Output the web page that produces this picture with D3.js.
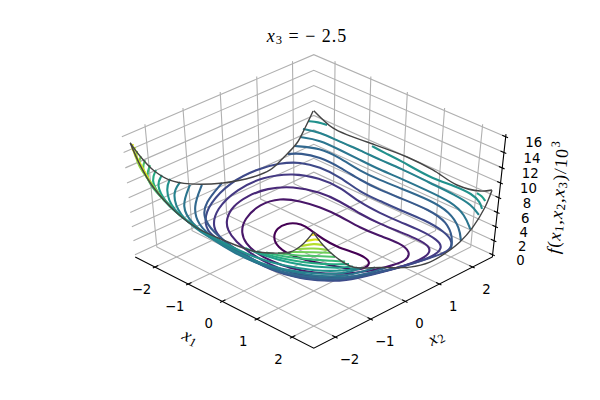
<!DOCTYPE html><html><head><meta charset="utf-8"><script src="https://cdn.jsdelivr.net/npm/d3@7"></script></head><body style="margin:0;background:#fff"><svg id="c" width="600" height="400" style="display:block"></svg><script>
// Tick values
const ticksX1=[-2,-1,0,1,2], ticksX2=[-2,-1,0,1,2], ticksZ=[0,2,4,6,8,10,12,14,16];
// Contour pieces: [level (f/10^3), closed?, [x1,x2 pairs]]
const contourLines=[
[.8,1,[[-.96,-.23],[-1.19,.10],[-1.19,.40],[-1.05,.55],[-.84,.58],[-.53,.51],[-.17,.44],[.27,.40],[.65,.48],[.97,.51],[1.24,.41],[1.31,.13],[1.18,-.06],[.91,-.15],[.37,-.39],[-.07,-.53],[-.60,-.47]]],
[1.6,1,[[-1.38,-.74],[-1.78,-.27],[-2.02,.42],[-1.91,.91],[-1.52,1.11],[-1.03,1.22],[-.46,1.23],[.20,1.15],[.73,1.19],[1.23,1.27],[1.65,1.15],[1.84,.80],[1.77,.50],[1.64,.02],[1.31,-.51],[.87,-.86],[.44,-1.06],[-.11,-1.14],[-.60,-1.10],[-.97,-.99]]],
[2.4,1,[[-1.50,-1.01],[-1.86,-.70],[-2.17,-.21],[-2.28,.31],[-2.24,.85],[-1.92,1.30],[-1.33,1.51],[-.75,1.52],[-.06,1.41],[.54,1.39],[1.06,1.43],[1.46,1.46],[1.91,1.43],[2.13,1.18],[2.16,.86],[2.12,.47],[1.87,-.28],[1.57,-.83],[1.15,-1.14],[.72,-1.34],[.18,-1.42],[-.47,-1.36],[-1.00,-1.24]]],
[3.2,1,[[-1.60,-1.33],[-2.14,-.71],[-2.47,.21],[-2.48,.97],[-2.16,1.54],[-1.60,1.78],[-1.02,1.79],[-.22,1.58],[.37,1.55],[.93,1.56],[1.46,1.60],[2.00,1.55],[2.30,1.38],[2.42,.96],[2.27,.30],[2.05,-.42],[1.77,-1.04],[1.38,-1.37],[.82,-1.62],[.23,-1.69],[-.47,-1.63],[-1.09,-1.54]]],
[4,1,[[-1.78,-1.37],[-2.21,-.83],[-2.61,.15],[-2.64,.95],[-2.49,1.49],[-2.23,1.82],[-1.77,1.95],[-1.15,1.93],[-.39,1.74],[.18,1.75],[.74,1.75],[1.39,1.80],[2.03,1.72],[2.47,1.50],[2.64,1.15],[2.56,.77],[2.43,.12],[2.22,-.57],[2.01,-1.15],[1.73,-1.42],[1.33,-1.71],[.66,-1.88],[-.18,-1.83],[-.75,-1.77],[-1.32,-1.70]]],
[4.8,0,[[-2.48,1.71],[-2.33,1.93],[-1.91,2.09],[-1.29,2.06],[-.59,1.94],[.01,1.91],[.54,1.95],[1.33,2.00],[1.93,1.87],[2.47,1.46],[2.75,1.10]]],
[4.8,0,[[-2.51,-.17],[-2.12,-1.02],[-1.71,-1.46],[-1.10,-1.76],[-.38,-1.92],[.35,-1.99],[1.17,-1.97],[1.71,-1.71],[2.14,-1.28],[2.36,-.72],[2.50,-.25]]],
[5.6,0,[[-2.45,1.89],[-2.01,2.20],[-1.40,2.17],[-.69,2.04],[-.12,2.04],[.41,2.08],[1.20,2.13],[1.84,2.04],[2.44,1.68],[2.82,1.30]]],
[5.6,0,[[-2.55,-.69],[-1.98,-1.47],[-1.35,-1.93],[-.65,-2.11],[.14,-2.19],[.99,-2.19],[1.83,-1.83],[2.26,-1.40],[2.45,-.90],[2.52,-.55]]],
[6.4,0,[[-2.48,2.07],[-2.09,2.27],[-1.47,2.24],[-.86,2.21],[-.26,2.18],[.28,2.21],[1.00,2.20],[1.74,2.19],[2.30,1.97],[2.77,1.61]]],
[6.4,0,[[-2.53,-1.03],[-1.96,-1.81],[-1.28,-2.14],[-.60,-2.28],[.18,-2.38],[1.00,-2.34],[1.94,-1.93],[2.36,-1.51],[2.48,-1.08],[2.52,-.84]]],
[7.2,0,[[-2.51,2.19],[-2.16,2.34],[-1.54,2.31],[-.99,2.34],[-.39,2.31],[.15,2.34],[1.03,2.29],[1.74,2.27],[2.27,2.19],[2.65,1.98]]],
[7.2,0,[[-2.57,-1.25],[-2.34,-1.69],[-1.55,-2.23],[-.74,-2.42],[.02,-2.46],[.89,-2.49],[1.51,-2.31],[2.03,-2.02],[2.45,-1.60],[2.51,-1.20]]],
[8,0,[[-2.50,2.33],[-2.32,2.45],[-2.09,2.48]]],
[8,0,[[-.76,2.45],[-.35,2.41],[.08,2.40],[1.05,2.26],[1.64,2.36],[2.12,2.35],[2.46,2.21],[2.68,2.02]]],
[8,0,[[-2.62,-1.47],[-2.38,-1.81],[-1.66,-2.33],[-.69,-2.53],[.13,-2.56],[.95,-2.54],[1.58,-2.36],[2.11,-2.10],[2.53,-1.68],[2.59,-1.43]]],
[8.8,0,[[2.32,2.25],[2.47,2.23],[2.66,2.12]]],
[8.8,0,[[-2.66,-1.64],[-2.43,-2.01],[-1.77,-2.37],[-1.14,-2.56],[-.59,-2.65]]],
[8.8,0,[[.70,-2.56],[1.19,-2.51],[1.73,-2.37],[2.16,-2.15],[2.54,-1.83],[2.67,-1.62]]],
[9.6,0,[[-2.71,-1.74],[-2.46,-2.10],[-1.93,-2.40],[-1.36,-2.61],[-.89,-2.72]]],
[9.6,0,[[1.13,-2.66],[1.53,-2.56],[1.90,-2.41],[2.23,-2.22],[2.53,-1.97],[2.71,-1.77]]],
[10.4,0,[[-2.75,-1.85],[-2.49,-2.19],[-2.08,-2.44],[-1.51,-2.64],[-1.14,-2.74]]],
[10.4,0,[[1.45,-2.72],[1.83,-2.59],[2.29,-2.29],[2.57,-2.06],[2.75,-1.92]]],
[11.2,0,[[-2.78,-1.94],[-2.57,-2.21],[-2.23,-2.41],[-1.70,-2.66],[-1.23,-2.83]]],
[11.2,0,[[1.79,-2.74],[2.09,-2.58],[2.35,-2.34],[2.65,-2.09]]],
[12,0,[[-2.76,-2.05],[-2.58,-2.29],[-2.23,-2.48],[-1.82,-2.66],[-1.29,-2.89]]],
[12,0,[[2.09,-2.72],[2.41,-2.40],[2.66,-2.20]]],
[12.8,0,[[-2.78,-2.12],[-2.57,-2.34],[-2.27,-2.53],[-1.87,-2.71],[-1.30,-2.97]]],
[12.8,0,[[2.26,-2.72],[2.46,-2.46],[2.69,-2.34]]],
[13.6,0,[[-2.73,-2.21],[-2.55,-2.39],[-2.36,-2.51],[-1.97,-2.71],[-1.31,-3.05]]],
[13.6,0,[[2.41,-2.74],[2.51,-2.50],[2.67,-2.43]]],
[14.4,0,[[-2.64,-2.32],[-2.53,-2.45],[-2.37,-2.53],[-2.07,-2.70],[-1.38,-3.07]]],
[14.4,0,[[2.51,-2.71],[2.56,-2.55],[2.66,-2.50]]],
[15.2,0,[[2.58,-2.65],[2.60,-2.60],[2.64,-2.58]]]];
// Surface boundary heights, [position along the side, f/10^3]
const edgeAtX1Min=[[-2.50,15.23],[-2.29,13.09],[-1.99,10.61],[-1.58,8.35],[-1.05,6.65],[-.15,4.78],[.70,3.73],[1.20,3.63],[1.59,4.48],[2.00,5.68],[2.24,7.25],[2.48,9.07]];
const edgeAtX2Max=[[-2.50,9.07],[-1.94,7.88],[-1.44,7.83],[-.95,8.04],[.18,8.42],[.90,8.23],[1.57,7.66],[2.19,8.22],[2.49,9.04]];
const edgeAtX1Max=[[2.49,9.04],[2.33,7.14],[2.01,5.10],[1.65,3.85],[1.37,3.41],[.78,3.12],[.19,3.86],[-.68,5.94],[-1.44,7.88],[-1.88,10.17],[-2.26,12.80],[-2.52,15.10]];
const edgeAtX2Min=[[2.50,15.10],[2.19,12.64],[1.87,10.94],[1.41,9.69],[.85,8.62],[.01,8.10],[-.73,7.98],[-1.29,8.71],[-1.94,10.71],[-2.27,12.87],[-2.50,15.23]];

const svg=d3.select("#c");
const elev=45*Math.PI/180, azim=-45*Math.PI/180, dist=10;
const sx1=d3.scaleLinear([-2.5,2.5],[0,1]), sx2=d3.scaleLinear([-2.5,2.5],[0,1]), sz=d3.scaleLinear([0,16],[0,1]);
const pxS=d3.scaleLinear([-0.095,0.09],[75,540]), pyS=d3.scaleLinear([-0.095,0.09],[356,48]);
const w=[Math.cos(elev)*Math.cos(azim),Math.cos(elev)*Math.sin(azim),Math.sin(elev)];
const u=[Math.SQRT1_2,Math.SQRT1_2,0];
const v=[w[1]*u[2]-w[2]*u[1],w[2]*u[0]-w[0]*u[2],w[0]*u[1]-w[1]*u[0]];
function proj(a,b,c){const p=[sx1(a)-.5,sx2(b)-.5,sz(c)-.5];const dot=q=>q[0]*p[0]+q[1]*p[1]+q[2]*p[2];const D=dist-dot(w);return [pxS(dot(u)/D),pyS(dot(v)/D)];}
const lo=-2.5-5/48, hi=2.5+5/48, zl=-1/3, zh=16+1/3;
const ln=(pts,col,wd)=>svg.append("path").attr("d",d3.line()(pts)).attr("fill","none").attr("stroke",col).attr("stroke-width",wd);
const G="#b0b0b0",GW=1.1;
ticksX1.forEach(t=>ln([proj(t,lo,zl),proj(t,hi,zl),proj(t,hi,zh)],G,GW));
ticksX2.forEach(t=>ln([proj(hi,t,zl),proj(lo,t,zl),proj(lo,t,zh)],G,GW));
ticksZ.forEach(t=>ln([proj(hi,hi,t),proj(lo,hi,t),proj(lo,lo,t)],G,GW));
ln([proj(lo,lo,zl),proj(hi,lo,zl),proj(hi,hi,zl),proj(hi,hi,zh)],"#000",1.1);
ticksX1.forEach(t=>ln([proj(t,lo-.06,zl),proj(t,lo+.09,zl)],"#000",1.1));
ticksX2.forEach(t=>ln([proj(hi+.06,t,zl),proj(hi-.09,t,zl)],"#000",1.1));
ticksZ.forEach(t=>ln([proj(hi+.06,hi,t),proj(hi-.09,hi,t)],"#000",1.1));
const col=d3.scaleSequential([.8,15.2],d3.interpolateViridis);
contourLines.forEach(([z,c,p])=>svg.append("path").attr("d",d3.line().curve(c?d3.curveBasisClosed:d3.curveBasis)(p.map(q=>proj(q[0],q[1],z)))).attr("fill","none").attr("stroke",col(z)).attr("stroke-width",2.1));
const eline=d3.line().curve(d3.curveCatmullRom);
[edgeAtX1Min.map(e=>proj(-2.5,e[0],e[1])),edgeAtX2Max.map(e=>proj(e[0],2.5,e[1])),edgeAtX1Max.map(e=>proj(2.5,e[0],e[1])),edgeAtX2Min.map(e=>proj(e[0],-2.5,e[1]))].forEach(e=>svg.append("path").attr("d",eline(e)).attr("fill","none").attr("stroke","#444").attr("stroke-width",1.4));
const T=(x,y,s,size=13.3)=>svg.append("text").attr("x",x).attr("y",y).attr("text-anchor","middle").attr("dominant-baseline","central").attr("font-family","DejaVu Sans").attr("font-size",size).text(s);
const lab=t=>(t<0?"\u2212":"")+Math.abs(t);
ticksX1.forEach(t=>{const a=proj(t,lo,zl);T(a[0]-13.5,a[1]+22,lab(t));});
ticksX2.forEach(t=>{const b=proj(hi,t,zl);T(b[0]+14,b[1]+22.5,lab(t));});
ticksZ.forEach(t=>{const a=proj(hi,hi,t);T(a[0]+28,a[1]+6,t);});
function math(x,y,rot,parts,size){const g=svg.append("text").attr("transform",`translate(${x},${y}) rotate(${rot})`).attr("text-anchor","middle").attr("dominant-baseline","central").attr("font-family","Liberation Serif").attr("font-size",size).attr("letter-spacing",1);parts.forEach(([s,st])=>{const t=g.append("tspan").text(s);if(st=="i")t.attr("font-style","italic");if(st=="s"){t.attr("dy",size*.22).attr("font-size",size*.7);}if(st=="u"){t.attr("dy",-size*.38).attr("font-size",size*.7);}if(st=="b"){t.attr("dy",-size*.22);}});}
math(307,36,0,[["x","i"],["3","s"],[" = \u2212 2.5","b"]],18);
math(191,337,28,[["x","i"],["1","s"]],18);
math(436,337,-28,[["x","i"],["2","s"]],18);
math(558,197,-85,[["f","i"],["("],["x","i"],["1","s"],[",","b"],["x","i"],["2","s"],[",","b"],["x","i"],["3","s"],[")/10","b"],["3","u"]],18);
</script></body></html>
